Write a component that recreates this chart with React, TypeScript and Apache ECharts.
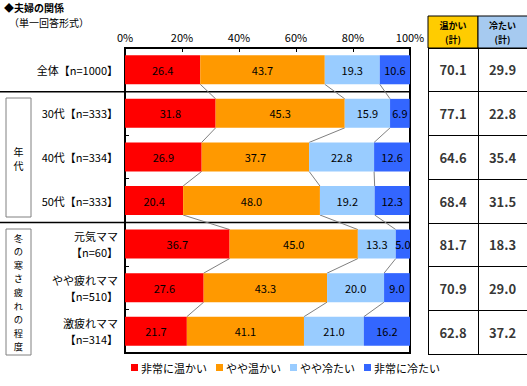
import React, { useEffect, useRef } from "react";
import * as echarts from "echarts";

const categories = [
  "全体【n=1000】",
  "30代【n=333】",
  "40代【n=334】",
  "50代【n=333】",
  "元気ママ\n【n=60】",
  "やや疲れママ\n【n=510】",
  "激疲れママ\n【n=314】",
];
const seriesNames = ["非常に温かい", "やや温かい", "やや冷たい", "非常に冷たい"];
const veryWarm = [26.4, 31.8, 26.9, 20.4, 36.7, 27.6, 21.7];
const someWarm = [43.7, 45.3, 37.7, 48.0, 45.0, 43.3, 41.1];
const someCold = [19.3, 15.9, 22.8, 19.2, 13.3, 20.0, 21.0];
const veryCold = [10.6, 6.9, 12.6, 12.3, 5.0, 9.0, 16.2];
const warmTotal = [70.1, 77.1, 64.6, 68.4, 81.7, 70.9, 62.8];
const coldTotal = [29.9, 22.8, 35.4, 31.5, 18.3, 29.0, 37.2];
const xTicks = [0, 20, 40, 60, 80, 100];
const groupAge = ["年", "代"];
const groupTired = ["冬", "の", "寒", "さ", "疲", "れ", "の", "程", "度"];

const colors = ["#FF0000", "#FF9900", "#99CCFF", "#3366FF"];
const FONT = "'Noto Sans CJK JP', 'Noto Sans', sans-serif";

export default function App() {
  const ref = useRef<HTMLDivElement>(null);
  useEffect(() => {
    if (!ref.current) return;
    const chart = echarts.init(ref.current, null, { renderer: "svg" });
    const all = [veryWarm, someWarm, someCold, veryCold];
    const barHalf = 14.5;

    const barSeries = all.map((arr, k) => ({
      name: seriesNames[k],
      type: "bar",
      stack: "total",
      barWidth: 29,
      xAxisIndex: 0,
      yAxisIndex: 0,
      itemStyle: { color: colors[k] },
      label: {
        show: true,
        position: "inside",
        color: "#000",
        fontSize: 11,
        fontFamily: FONT,
        formatter: (p: any) => Number(p.value).toFixed(1),
      },
      data: arr,
    }));

    const connector = {
      type: "custom",
      xAxisIndex: 0,
      yAxisIndex: 0,
      silent: true,
      z: 1,
      encode: { x: 0, y: 1 },
      data: categories.slice(0, categories.length - 1).map((_, i) => [0, i]),
      renderItem: (params: any, api: any) => {
        const i = params.dataIndex;
        const children: any[] = [];
        let c1 = 0;
        let c2 = 0;
        for (let k = 0; k < 3; k++) {
          c1 += all[k][i];
          c2 += all[k][i + 1];
          const p1 = api.coord([c1, i]);
          const p2 = api.coord([c2, i + 1]);
          children.push({
            type: "line",
            shape: { x1: p1[0], y1: p1[1] + barHalf, x2: p2[0], y2: p2[1] - barHalf },
            style: { stroke: "#808080", lineWidth: 1 },
          });
        }
        return { type: "group", children };
      },
    };

    const tableSeries = (vals: number[], idx: number) => ({
      type: "scatter",
      xAxisIndex: idx,
      yAxisIndex: idx,
      symbolSize: 0,
      silent: true,
      data: vals.map((v, i) => [0.5, i, v]),
      label: {
        show: true,
        position: "inside",
        color: "#000",
        fontSize: 13,
        fontWeight: "bold",
        fontFamily: FONT,
        formatter: (p: any) => Number(p.value[2]).toFixed(1),
      },
    });

    const tableY = (idx: number) => ({
      type: "category",
      gridIndex: idx,
      inverse: true,
      data: categories,
      axisLine: { show: true, lineStyle: { color: "#000", width: 1 } },
      axisTick: { show: false },
      axisLabel: { show: false },
      splitLine: { show: true, lineStyle: { color: "#000", width: 1 } },
    });
    const tableX = (idx: number) => ({
      type: "value",
      gridIndex: idx,
      min: 0,
      max: 1,
      show: false,
    });

    const vertText = (chars: string[], cx: number, cy: number, pitch: number, size: number) =>
      chars.map((ch, j) => ({
        type: "text",
        x: cx,
        y: cy + (j - (chars.length - 1) / 2) * pitch,
        style: { text: ch, fontSize: size, fill: "#000", align: "center", verticalAlign: "middle", fontFamily: FONT },
      }));

    chart.setOption({
      animation: false,
      textStyle: { fontFamily: FONT },
      grid: [
        { left: 125, right: 117, top: 48, bottom: 33, show: true, borderColor: "#000", borderWidth: 2 },
        { left: 428, width: 50, top: 48, bottom: 32 },
        { left: 478, width: 49, top: 48, bottom: 32 },
      ],
      xAxis: [
        {
          type: "value",
          gridIndex: 0,
          position: "top",
          min: xTicks[0],
          max: xTicks[xTicks.length - 1],
          interval: 20,
          axisLine: { show: true, lineStyle: { color: "#000", width: 2 } },
          axisTick: { show: true, inside: true, length: 4, lineStyle: { color: "#000" } },
          axisLabel: { formatter: "{value}%", color: "#000", fontSize: 11, margin: 6, fontFamily: FONT },
          splitLine: { show: false },
        },
        tableX(1),
        tableX(2),
      ],
      yAxis: [
        {
          type: "category",
          gridIndex: 0,
          inverse: true,
          data: categories,
          axisLine: { show: true, lineStyle: { color: "#000", width: 2 } },
          axisTick: { show: true, inside: true, length: 4, lineStyle: { color: "#000" } },
          axisLabel: { color: "#000", fontSize: 11, margin: 7, lineHeight: 16, fontFamily: FONT, align: "right" },
          splitLine: { show: false },
        },
        tableY(1),
        tableY(2),
      ],
      legend: {
        data: seriesNames,
        left: 126,
        top: 357,
        icon: "rect",
        itemWidth: 7,
        itemHeight: 7,
        itemGap: 9,
        textStyle: { color: "#000", fontSize: 11, fontFamily: FONT, padding: [0, 0, 0, -2] },
      },
      series: [...barSeries, connector, tableSeries(warmTotal, 1), tableSeries(coldTotal, 2)],
      graphic: [
        { type: "text", left: 4, top: 2, style: { text: "◆夫婦の関係", fontSize: 10, fontWeight: "bold", fill: "#000", fontFamily: FONT } },
        { type: "text", left: 9, top: 17, style: { text: "（単一回答形式）", fontSize: 10, fill: "#000", fontFamily: FONT } },
        { type: "line", shape: { x1: 0, y1: 91.7, x2: 410, y2: 91.7 }, style: { stroke: "#000", lineWidth: 1.5 } },
        { type: "line", shape: { x1: 0, y1: 222.4, x2: 410, y2: 222.4 }, style: { stroke: "#000", lineWidth: 1.5 } },
        { type: "rect", shape: { x: 6, y: 98, width: 25, height: 119 }, style: { fill: "none", stroke: "#808080", lineWidth: 1 } },
        ...vertText(groupAge, 18.5, 158, 14, 10),
        { type: "rect", shape: { x: 6, y: 229, width: 25, height: 126 }, style: { fill: "none", stroke: "#808080", lineWidth: 1 } },
        ...vertText(groupTired, 18.5, 292, 13.6, 9.3),
        { type: "rect", shape: { x: 428, y: 16, width: 50, height: 32 }, style: { fill: "#FFCC00", stroke: "#000", lineWidth: 1 } },
        { type: "rect", shape: { x: 478, y: 16, width: 52, height: 32 }, style: { fill: "#A6CAF0", stroke: "#000", lineWidth: 1 } },
        { type: "text", x: 453, y: 25, style: { text: "温かい", fontSize: 9, fontWeight: "bold", fill: "#000", align: "center", verticalAlign: "middle", fontFamily: FONT } },
        { type: "text", x: 453, y: 39, style: { text: "(計)", fontSize: 9, fontWeight: "bold", fill: "#000", align: "center", verticalAlign: "middle", fontFamily: FONT } },
        { type: "text", x: 502.5, y: 25, style: { text: "冷たい", fontSize: 9, fontWeight: "bold", fill: "#000", align: "center", verticalAlign: "middle", fontFamily: FONT } },
        { type: "text", x: 502.5, y: 39, style: { text: "(計)", fontSize: 9, fontWeight: "bold", fill: "#000", align: "center", verticalAlign: "middle", fontFamily: FONT } },
      ],
    });
    return () => chart.dispose();
  }, []);
  return (
    <div
      ref={ref}
      style={{ position: "fixed", left: 0, top: 0, width: 527, height: 386, background: "#fff" }}
    />
  );
}
